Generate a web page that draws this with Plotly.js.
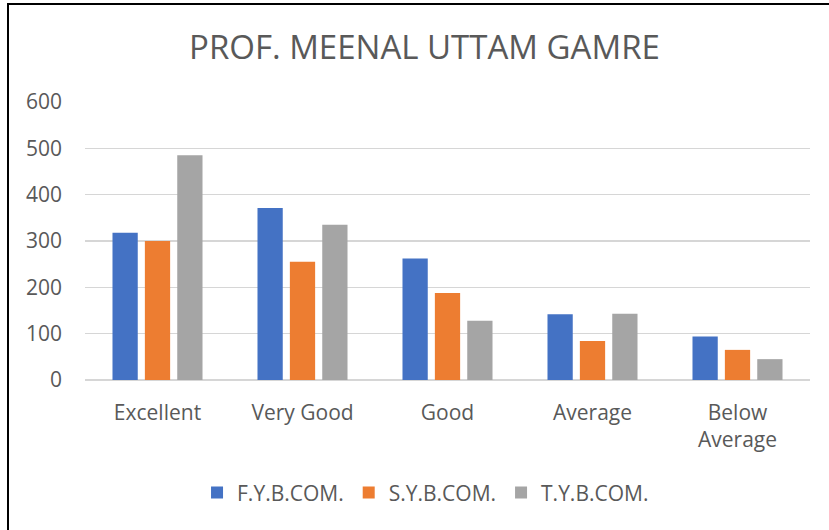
<!DOCTYPE html>
<html>
<head>
<meta charset="utf-8">
<script src="https://cdn.plot.ly/plotly-3.0.1.min.js"></script>
<style>
html,body{margin:0;padding:0;background:#fff;overflow:hidden;}
#chart{width:829px;height:530px;}
#frame{position:absolute;left:7px;top:3px;width:900px;height:700px;border:2px solid #000;pointer-events:none;box-sizing:border-box;}
</style>
</head>
<body>
<div id="chart"></div>
<div id="frame"></div>
<script>
const categories = ["Excellent", "Very Good", "Good", "Average", "Below<br>Average"];
const seriesNames = ["F.Y.B.COM.", "S.Y.B.COM.", "T.Y.B.COM."];
const fyValues = [318, 371, 262, 142, 94];
const syValues = [300, 255, 188, 84, 65];
const tyValues = [485, 335, 128, 143, 45];
const colors = ["#4472C4", "#ED7D31", "#A5A5A5"];
const yTicks = [0, 100, 200, 300, 400, 500, 600];

const allValues = [fyValues, syValues, tyValues];
const traces = allValues.map((vals, i) => ({
  type: "bar",
  name: seriesNames[i],
  x: categories,
  y: vals,
  marker: {color: colors[i]},
  hoverinfo: "x+y+name"
}));

const font = "'Open Sans', 'Noto Sans', sans-serif";
const layout = {
  width: 829,
  height: 530,
  paper_bgcolor: "#ffffff",
  plot_bgcolor: "#ffffff",
  margin: {l: 85, r: 19, t: 102, b: 150},
  title: {
    text: "PROF. MEENAL UTTAM GAMRE",
    font: {family: font, size: 33, color: "#595959"},
    x: 0.512, xanchor: "center",
    y: 1 - 47/530, yanchor: "middle", yref: "container"
  },
  barmode: "group",
  bargap: 0.33,
  bargroupgap: 0.22,
  xaxis: {
    showgrid: false,
    showline: false,
    zeroline: false,
    ticks: "",
    tickfont: {family: font, size: 21, color: "#595959"},
    ticklabelstandoff: 18,
    automargin: false
  },
  yaxis: {
    range: [0, 600],
    tickvals: yTicks,
    ticktext: yTicks.map(String),
    showgrid: true,
    gridcolor: "#d6d6d6",
    gridwidth: 1.3,
    zeroline: true,
    zerolinecolor: "#d6d6d6",
    zerolinewidth: 1.3,
    showline: false,
    ticks: "",
    tickfont: {family: font, size: 21, color: "#595959"},
    ticklabelstandoff: 22,
    automargin: false
  },
  legend: {
    orientation: "h",
    x: 0.4697, xanchor: "center",
    y: -0.406, yanchor: "middle",
    font: {family: font, size: 21, color: "#595959"},
    itemwidth: 30,
    traceorder: "normal"
  },
  showlegend: true
};

Plotly.newPlot("chart", traces, layout, {displayModeBar: false, staticPlot: true});
</script>
</body>
</html>
